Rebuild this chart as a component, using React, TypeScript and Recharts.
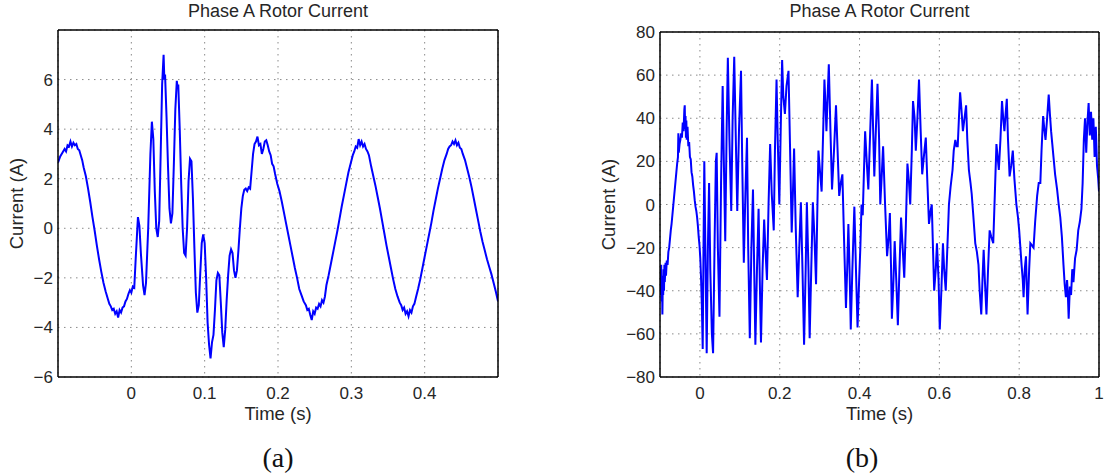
import React from 'react';
import { LineChart, Line, XAxis, YAxis, CartesianGrid, Label } from 'recharts';

// (a) rotor current, short window
const timeA = [
  -0.1, -0.097, -0.094, -0.091, -0.089, -0.087, -0.085, -0.083, -0.081, -0.079, -0.077, -0.075, -0.073, -0.071, -0.069, -0.067, -0.065,
  -0.062, -0.059, -0.056, -0.053, -0.05, -0.047, -0.044, -0.041, -0.038, -0.035, -0.032, -0.03, -0.028, -0.026, -0.024, -0.022,
  -0.02, -0.018, -0.016, -0.014, -0.012, -0.01, -0.008, -0.006, -0.004, -0.002, 0, 0.002, 0.004, 0.006, 0.009, 0.011, 0.013,
  0.016, 0.018, 0.02, 0.023, 0.026, 0.028, 0.03, 0.032, 0.034, 0.036, 0.038, 0.04, 0.042, 0.044, 0.045, 0.046, 0.048, 0.05,
  0.052, 0.054, 0.056, 0.058, 0.06, 0.062, 0.063, 0.064, 0.066, 0.068, 0.07, 0.072, 0.074, 0.076, 0.078, 0.08, 0.082, 0.084,
  0.086, 0.088, 0.09, 0.092, 0.094, 0.096, 0.098, 0.1, 0.102, 0.104, 0.106, 0.108, 0.11, 0.112, 0.114, 0.116, 0.118, 0.12,
  0.122, 0.124, 0.126, 0.128, 0.13, 0.132, 0.134, 0.136, 0.138, 0.14, 0.142, 0.144, 0.146, 0.148, 0.15, 0.152, 0.154, 0.156,
  0.158, 0.16, 0.162, 0.164, 0.166, 0.168, 0.17, 0.172, 0.174, 0.176, 0.178, 0.18, 0.182, 0.184, 0.186, 0.188, 0.19, 0.192,
  0.194, 0.196, 0.199, 0.202, 0.205, 0.208, 0.211, 0.214, 0.217, 0.22, 0.223, 0.226, 0.229, 0.232, 0.235, 0.238, 0.24, 0.242,
  0.244, 0.246, 0.248, 0.25, 0.252, 0.254, 0.256, 0.258, 0.26, 0.262, 0.264, 0.266, 0.269, 0.272, 0.275, 0.278, 0.281, 0.284,
  0.287, 0.29, 0.293, 0.296, 0.299, 0.302, 0.304, 0.306, 0.308, 0.31, 0.312, 0.314, 0.316, 0.318, 0.32, 0.322, 0.324, 0.327,
  0.33, 0.333, 0.336, 0.339, 0.342, 0.345, 0.348, 0.351, 0.354, 0.357, 0.36, 0.363, 0.366, 0.368, 0.37, 0.372, 0.374, 0.376,
  0.378, 0.38, 0.382, 0.384, 0.386, 0.388, 0.391, 0.394, 0.397, 0.4, 0.403, 0.406, 0.409, 0.412, 0.415, 0.418, 0.421, 0.424,
  0.427, 0.43, 0.432, 0.434, 0.436, 0.438, 0.44, 0.442, 0.444, 0.446, 0.448, 0.45, 0.452, 0.455, 0.458, 0.461, 0.464, 0.467,
  0.47, 0.473, 0.476, 0.479, 0.482, 0.485, 0.488, 0.491, 0.494, 0.497, 0.5,
];
const currentA = [
  2.65, 2.9, 3.05, 3.2, 3.1, 3.35, 3.3, 3.5, 3.3, 3.45, 3.35, 3.4, 3.2, 3.15, 2.95, 2.75, 2.45,
  2.1, 1.6, 1.05, 0.45, -0.1, -0.7, -1.25, -1.75, -2.2, -2.55, -2.85, -3.05, -3.15, -3.3, -3.25, -3.45,
  -3.35, -3.6, -3.3, -3.4, -3.2, -3.15, -2.95, -2.85, -2.65, -2.5, -2.6, -2.35, -2.4, -1.2, 0.45, 0.1, -1.0,
  -2.3, -2.7, -2.2, 0.0, 3.0, 4.3, 3.6, 1.5, 0.0, -0.35, 0.3, 3.0, 5.8, 7.0, 6.0, 6.2, 4.5, 2.5,
  0.8, 0.2, 0.6, 2.6, 4.8, 5.95, 5.7, 5.8, 4.0, 1.8, 0.0, -1.0, -1.1, 0.0, 1.9, 2.8, 2.7, 1.2,
  -0.8, -2.6, -3.4, -3.1, -1.8, -0.6, -0.25, -0.6, -2.0, -3.8, -4.7, -5.25, -4.6, -4.3, -3.3, -2.1, -1.8, -1.9,
  -3.0, -4.2, -4.8, -4.1, -2.9, -1.9, -1.1, -0.85, -1.0, -1.7, -2.0, -1.7, -0.9, 0.0, 0.8, 1.3, 1.55, 1.6,
  1.5, 1.65, 1.6, 2.3, 3.0, 3.4, 3.5, 3.7, 3.35, 3.4, 3.0, 3.2, 3.5, 3.55, 3.35, 3.1, 2.95, 2.6,
  2.5, 2.2, 1.8, 1.5, 1.1, 0.65, 0.2, -0.25, -0.7, -1.15, -1.6, -2.0, -2.45, -2.7, -2.95, -3.1, -3.3, -3.25,
  -3.5, -3.7, -3.35, -3.45, -3.2, -3.25, -3.05, -3.15, -2.9, -3.0, -2.75, -2.3, -1.9, -1.45, -1.0, -0.55, -0.1, 0.4,
  0.9, 1.35, 1.8, 2.25, 2.6, 2.95, 3.1, 3.3, 3.25, 3.6, 3.35, 3.5, 3.3, 3.4, 3.2, 3.1, 2.95, 2.5,
  2.1, 1.7, 1.25, 0.8, 0.3, -0.2, -0.7, -1.15, -1.6, -2.05, -2.45, -2.75, -3.0, -3.1, -3.3, -3.2, -3.45, -3.35,
  -3.55, -3.3, -3.4, -3.15, -3.05, -2.8, -2.45, -2.05, -1.6, -1.15, -0.7, -0.25, 0.2, 0.7, 1.15, 1.6, 2.0, 2.4,
  2.75, 3.0, 3.2, 3.3, 3.35, 3.5, 3.4, 3.55, 3.35, 3.45, 3.25, 3.2, 3.0, 2.75, 2.4, 2.05, 1.65, 1.2,
  0.75, 0.3, -0.15, -0.55, -0.9, -1.25, -1.55, -1.85, -2.2, -2.55, -2.95,
];

// (b) rotor current, long window
const timeB = [
  -0.1, -0.098, -0.097, -0.096, -0.095, -0.094, -0.093, -0.092, -0.091, -0.09, -0.089, -0.088, -0.086, -0.085, -0.083, -0.081,
  -0.079, -0.077, -0.075, -0.073, -0.071, -0.069, -0.067, -0.065, -0.063, -0.061, -0.059, -0.057, -0.055, -0.054, -0.053, -0.051,
  -0.049, -0.047, -0.045, -0.043, -0.041, -0.039, -0.038, -0.037, -0.036, -0.035, -0.034, -0.033, -0.031, -0.029, -0.027, -0.025,
  -0.023, -0.021, -0.019, -0.017, -0.015, -0.013, -0.011, -0.009, -0.007, -0.005, -0.003, -0.001, 0.001, 0.003, 0.005, 0.007,
  0.009, 0.011, 0.014, 0.017, 0.02, 0.023, 0.026, 0.03, 0.033, 0.037, 0.04, 0.042, 0.045, 0.049, 0.053, 0.057,
  0.06, 0.0635, 0.067, 0.07, 0.074, 0.0785, 0.082, 0.086, 0.09, 0.0936, 0.098, 0.103, 0.106, 0.11, 0.114, 0.118,
  0.121, 0.125, 0.129, 0.133, 0.136, 0.139, 0.143, 0.147, 0.15, 0.153, 0.157, 0.161, 0.164, 0.168, 0.172, 0.176,
  0.18, 0.185, 0.188, 0.192, 0.195, 0.199, 0.203, 0.206, 0.209, 0.213, 0.217, 0.222, 0.226, 0.23, 0.233, 0.236,
  0.24, 0.245, 0.249, 0.253, 0.257, 0.261, 0.265, 0.268, 0.272, 0.275, 0.279, 0.283, 0.287, 0.291, 0.294, 0.297,
  0.301, 0.305, 0.309, 0.312, 0.315, 0.317, 0.32, 0.323, 0.327, 0.331, 0.336, 0.341, 0.345, 0.349, 0.353, 0.357,
  0.361, 0.366, 0.369, 0.372, 0.375, 0.378, 0.382, 0.387, 0.391, 0.395, 0.399, 0.402, 0.405, 0.408, 0.411, 0.414,
  0.418, 0.422, 0.426, 0.431, 0.434, 0.437, 0.441, 0.445, 0.449, 0.452, 0.456, 0.459, 0.464, 0.469, 0.473, 0.476,
  0.479, 0.481, 0.485, 0.488, 0.492, 0.496, 0.5, 0.504, 0.508, 0.512, 0.516, 0.52, 0.524, 0.527, 0.531, 0.534,
  0.538, 0.541, 0.545, 0.549, 0.553, 0.557, 0.561, 0.566, 0.57, 0.574, 0.578, 0.581, 0.584, 0.587, 0.591, 0.594,
  0.598, 0.601, 0.605, 0.609, 0.612, 0.616, 0.62, 0.624, 0.628, 0.633, 0.636, 0.64, 0.643, 0.646, 0.649, 0.652,
  0.655, 0.659, 0.663, 0.667, 0.67, 0.674, 0.678, 0.681, 0.685, 0.69, 0.694, 0.698, 0.701, 0.705, 0.708, 0.711,
  0.714, 0.718, 0.722, 0.726, 0.73, 0.735, 0.739, 0.743, 0.746, 0.749, 0.753, 0.757, 0.76, 0.763, 0.766, 0.769,
  0.772, 0.776, 0.78, 0.784, 0.788, 0.793, 0.797, 0.8, 0.803, 0.806, 0.809, 0.811, 0.814, 0.817, 0.819, 0.821,
  0.825, 0.828, 0.832, 0.836, 0.84, 0.845, 0.849, 0.853, 0.856, 0.86, 0.863, 0.866, 0.87, 0.874, 0.877, 0.88,
  0.883, 0.886, 0.89, 0.895, 0.899, 0.903, 0.907, 0.911, 0.914, 0.917, 0.92, 0.922, 0.924, 0.927, 0.93, 0.933,
  0.936, 0.94, 0.944, 0.948, 0.952, 0.956, 0.959, 0.962, 0.965, 0.968, 0.971, 0.974, 0.977, 0.98, 0.983, 0.986,
  0.989, 0.992, 0.995, 0.998, 1.0,
];
const currentB = [
  -30, -42, -28, -45, -33, -51, -36, -42, -30, -40, -28, -36, -27, -33, -26, -28,
  -22, -20, -16, -12, -9, -5, -1, 3, 7, 11, 15, 19, 22, 33, 24, 28,
  30, 33, 31, 38, 34, 44, 46, 35, 41, 31, 39, 30, 36, 27, 29, 22,
  21, 15, 13, 9, 6, 2, -1, -3, -6, -10, -15, -19, -25, -35, -48, -67,
  -20, 20, -25, -69, -20, 10, -30, -60, -69, -15, 20, 24, -20, -52, 10, 55,
  20, -17, 35, 68, 30, -3, 40, 68.5, 30, -3, 35, 62, 20, -27, 5, 31,
  -20, -62, -20, 7, -30, -65, -30, -2, -35, -64, -30, -7, -20, -35, 0, 28,
  5, -12, 25, 58, 30, 0, 40, 67, 50, 42, 55, 62, 25, -13, 5, 26,
  -10, -43, -20, 1, -30, -65, -30, 1, -30, -62, -30, 1, -15, -37, -5, 25,
  15, 6, 35, 58, 45, 34, 50, 65, 35, 7, 25, 46, 25, 4, 10, 14,
  -15, -48, -30, -9, -30, -58, -30, -1, -30, -57, -35, -20, 0, -5, 15, 34,
  20, 7, 30, 58, 35, 13, 35, 56, 30, 0, 15, 27, 0, -24, -15, -4,
  -30, -53, -35, -17, -35, -56, -30, -6, -20, -34, -10, 19, 10, 0, 25, 48,
  40, 25, 40, 58, 35, 14, 22, 31, 10, -9, -3, 0, -20, -40, -30, -18,
  -35, -58, -40, -18, -30, -40, -20, 0, 8, 16, 25, 30, 27, 27, 40, 52,
  45, 34, 40, 46, 30, 16, 10, 5, -5, -18, -22, -28, -40, -51, -35, -21,
  -35, -51, -30, -12, -15, -18, 5, 28, 22, 16, 30, 48, 40, 34, 42, 49,
  30, 13, 18, 25, 12, 0, -6, -12, -20, -28, -35, -43, -30, -24, -38, -51,
  -30, -18, -19, -20, -8, 4, 10, 10, 25, 41, 35, 30, 40, 51, 42, 34,
  28, 22, 14, 7, 0, -6, -15, -28, -37, -43, -35, -42, -53, -38, -42, -30,
  -36, -25, -21, -12, -8, -2, 10, 30, 40, 24, 38, 47, 32, 43, 30, 40,
  22, 36, 18, 12, 6,
];

const xTicksA = [0, 0.1, 0.2, 0.3, 0.4];
const yTicksA = [-6, -4, -2, 0, 2, 4, 6];
const xTicksB = [0, 0.2, 0.4, 0.6, 0.8, 1];
const yTicksB = [-80, -60, -40, -20, 0, 20, 40, 60, 80];

const TITLE = 'Phase A Rotor Current';
const X_LABEL = 'Time (s)';
const Y_LABEL = 'Current (A)';

const SANS = '"Liberation Sans", Arial, Helvetica, sans-serif';
const TEXT = '#262626';
const tickStyle = { fontSize: 17, fill: TEXT, fontFamily: SANS };
const labelStyle = { fontSize: 18.5, fill: TEXT, fontFamily: SANS, textAnchor: 'middle' as const };
const frame = { stroke: '#000', strokeWidth: 1.5 };
const tickMark = { stroke: '#000', strokeWidth: 1 };

const fmt = (v: number) => String(v).replace('-', '\u2212');

interface PanelProps {
  t: number[];
  v: number[];
  xDomain: [number, number];
  yDomain: [number, number];
  xTicks: number[];
  yTicks: number[];
  left: number;
  width: number;
  margin: { top: number; right: number; bottom: number; left: number };
  yLabelOffset: number;
}

function Panel({ t, v, xDomain, yDomain, xTicks, yTicks, left, width, margin, yLabelOffset }: PanelProps) {
  const data = t.map((x, i) => ({ t: x, v: v[i] }));
  return (
    <div style={{ position: 'absolute', left, top: 0 }}>
      <LineChart width={width} height={430} data={data} margin={margin}>
        <CartesianGrid stroke="#8a8a8a" strokeDasharray="1.5 4.5" />
        <XAxis
          type="number"
          dataKey="t"
          domain={xDomain}
          ticks={xTicks}
          interval={0}
          allowDataOverflow
          height={45}
          tickSize={0}
          tickMargin={10}
          tickLine={false}
          axisLine={frame}
          tick={tickStyle}
          tickFormatter={fmt}
        >
          <Label value={X_LABEL} position="insideBottom" offset={2.5} style={labelStyle} />
        </XAxis>
        {/* inward tick marks and the top/right sides of the box */}
        <XAxis xAxisId="bm" type="number" domain={xDomain} ticks={xTicks} interval={0} allowDataOverflow mirror height={1}
          tick={false} axisLine={false} tickLine={tickMark} tickSize={5} />
        <XAxis xAxisId="top" orientation="top" type="number" domain={xDomain} ticks={xTicks} interval={0} allowDataOverflow mirror height={1}
          tick={false} axisLine={frame} tickLine={tickMark} tickSize={5} />
        <YAxis
          type="number"
          domain={yDomain}
          ticks={yTicks}
          interval={0}
          allowDataOverflow
          width={50}
          tickSize={0}
          tickMargin={5}
          tickLine={false}
          axisLine={frame}
          tick={tickStyle}
          tickFormatter={fmt}
        >
          <Label value={Y_LABEL} angle={-90} position="insideLeft" offset={yLabelOffset} style={labelStyle} />
        </YAxis>
        <YAxis yAxisId="lm" type="number" domain={yDomain} ticks={yTicks} interval={0} allowDataOverflow mirror width={1}
          tick={false} axisLine={false} tickLine={tickMark} tickSize={5} />
        <YAxis yAxisId="r" orientation="right" type="number" domain={yDomain} ticks={yTicks} interval={0} allowDataOverflow mirror width={1}
          tick={false} axisLine={frame} tickLine={tickMark} tickSize={5} />
        <Line type="linear" dataKey="v" stroke="#0000ff" strokeWidth={2} dot={false} isAnimationActive={false} />
      </LineChart>
    </div>
  );
}

const titleStyle: React.CSSProperties = {
  position: 'absolute',
  top: 0.5,
  fontFamily: SANS,
  fontSize: 18,
  lineHeight: 'normal',
  color: TEXT,
  textAlign: 'center',
  whiteSpace: 'nowrap',
};

const captionStyle: React.CSSProperties = {
  position: 'absolute',
  top: 442,
  width: 80,
  fontFamily: '"Liberation Serif", "DejaVu Serif", serif',
  fontSize: 28,
  lineHeight: '32px',
  color: '#111',
  textAlign: 'center',
};

export default function App() {
  return (
    <div style={{ position: 'absolute', left: 0, top: 0, width: 1118, height: 476, background: '#fff', overflow: 'hidden' }}>
      <Panel
        t={timeA}
        v={currentA}
        xDomain={[-0.1, 0.5]}
        yDomain={[-6, 8]}
        xTicks={xTicksA}
        yTicks={yTicksA}
        left={0}
        width={520}
        margin={{ top: 30, right: 22, bottom: 8, left: 8 }}
        yLabelOffset={8.4}
      />
      <Panel
        t={timeB}
        v={currentB}
        xDomain={[-0.1, 1]}
        yDomain={[-80, 80]}
        xTicks={xTicksB}
        yTicks={yTicksB}
        left={540}
        width={578}
        margin={{ top: 32, right: 19, bottom: 8, left: 70 }}
        yLabelOffset={-2}
      />
      <div style={{ ...titleStyle, left: 58, width: 440 }}>{TITLE}</div>
      <div style={{ ...titleStyle, left: 660, width: 439 }}>{TITLE}</div>
      <div style={{ ...captionStyle, left: 238 }}>(a)</div>
      <div style={{ ...captionStyle, left: 822 }}>(b)</div>
    </div>
  );
}
